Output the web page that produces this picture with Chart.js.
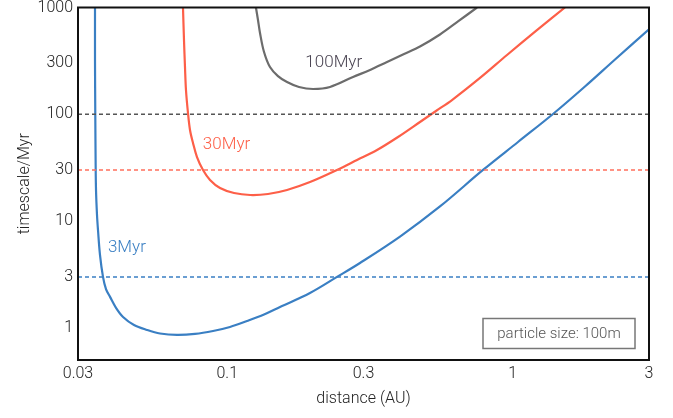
<!DOCTYPE html>
<html>
<head>
<meta charset="utf-8">
<script src="https://cdn.jsdelivr.net/npm/chart.js@4"></script>
<style>
  html, body { margin: 0; padding: 0; background: #fff; }
  #wrap { width: 673px; height: 418px; }
</style>
</head>
<body>
<div id="wrap"><canvas id="chart"></canvas></div>
<script>
// values (distance in AU, timescale in Myr)
const blueX = [0.03441, 0.03441, 0.03449, 0.03458, 0.03469, 0.03497, 0.03525, 0.03582, 0.0367, 0.0376, 0.03884, 0.04076, 0.04314, 0.04713, 0.05234, 0.05813, 0.06667, 0.07708, 0.08915, 0.1022, 0.1173, 0.1345, 0.153, 0.1948, 0.2423, 0.2916, 0.4027, 0.5559, 0.7865, 1.043, 1.383, 1.79, 2.281, 3.0];
const blueY = [1000, 322, 98.5, 37.3, 19.55, 11.4, 8.25, 4.82, 3.0, 2.31, 1.95, 1.54, 1.265, 1.064, 0.956, 0.886, 0.858, 0.877, 0.935, 1.02, 1.16, 1.335, 1.57, 2.12, 3.0, 4.05, 7.16, 13.7, 30.1, 55.0, 100.6, 182, 326, 625];
const redX = [0.06996, 0.07053, 0.0711, 0.07167, 0.07284, 0.07403, 0.07584, 0.07833, 0.08222, 0.087, 0.09432, 0.1056, 0.1202, 0.1389, 0.1619, 0.1949, 0.2423, 0.2847, 0.3345, 0.3963, 0.4731, 0.5383, 0.6125, 0.7677, 0.9545, 1.206, 1.523];
const redY = [1000, 496, 277, 169, 102.8, 71.3, 53.9, 39.8, 30.1, 24.3, 20.4, 18.3, 17.55, 17.93, 19.55, 23.2, 30.1, 37.3, 46.3, 61.3, 84.7, 107.4, 136, 219, 359, 603, 1000];
const grayX = [0.126, 0.1281, 0.1302, 0.1345, 0.1411, 0.1505, 0.1619, 0.1783, 0.1997, 0.229, 0.2757, 0.3162, 0.3627, 0.4161, 0.4731, 0.5559, 0.6429, 0.7493];
const grayY = [1000, 764, 577, 383, 277, 228, 200.6, 180.1, 172.5, 180.1, 223.6, 259.9, 308.9, 367, 431, 559, 740, 1000];

const levels = [3, 30, 100];
const xTicks = [0.03, 0.1, 0.3, 1, 3];
const yTicks = [1, 3, 10, 30, 100, 300, 1000];
const curveNames = ["3Myr", "30Myr", "100Myr"];

const blue = "#3a7fc3", red = "#fd5f48", gray = "#6c6c6c";
const FONT = "Roboto, 'Liberation Sans', sans-serif";

function pts(xs, ys) {
  return xs.map((x, i) => ({ x: x, y: ys[i] }));
}

// where the curve names sit (data coords)
const nameSpots = [
  { text: curveNames[0], x: 0.0445, y: 5.6, color: blue },
  { text: curveNames[1], x: 0.0994, y: 51.6, color: red },
  { text: curveNames[2], x: 0.236, y: 302, color: "#4a4452" }
];

const frameAndLabels = {
  id: "frameAndLabels",
  afterDraw(chart) {
    const { ctx, chartArea: a, scales } = chart;
    ctx.save();
    ctx.setLineDash([]);
    ctx.font = "300 17px " + FONT;
    ctx.textAlign = "center";
    ctx.textBaseline = "middle";
    nameSpots.forEach(n => {
      ctx.fillStyle = n.color;
      ctx.fillText(n.text, scales.x.getPixelForValue(n.x), scales.y.getPixelForValue(n.y));
    });
    // legend-like box
    const bw = 152, bh = 30;
    const bx = a.right - 14 - bw, by = a.bottom - 11.5 - bh;
    ctx.strokeStyle = "#777";
    ctx.lineWidth = 1.5;
    ctx.strokeRect(bx, by, bw, bh);
    ctx.fillStyle = "#555";
    ctx.font = "300 15px " + FONT;
    ctx.fillText("particle size: 100m", bx + bw / 2, by + bh / 2 + 1);
    // plot frame
    ctx.strokeStyle = "#111";
    ctx.lineWidth = 2;
    ctx.strokeRect(a.left, a.top, a.right - a.left, a.bottom - a.top);
    ctx.restore();
  }
};

const dashColors = [blue, "#ff6f5c", "#555"];
const dashed = levels.map((v, i) => ({
  data: [{ x: xTicks[0], y: v }, { x: xTicks[xTicks.length - 1], y: v }],
  borderColor: dashColors[i],
  borderWidth: 1.5,
  borderDash: [4, 3],
  showLine: true,
  pointRadius: 0
}));

const curve = (xs, ys, color) => ({
  data: pts(xs, ys),
  borderColor: color,
  borderWidth: 2.2,
  showLine: true,
  pointRadius: 0,
  tension: 0.35
});

const tickFont = { family: FONT, size: 16, weight: "300" };

new Chart(document.getElementById("chart"), {
  type: "scatter",
  data: {
    datasets: [
      ...dashed,
      curve(blueX, blueY, blue),
      curve(redX, redY, red),
      curve(grayX, grayY, gray)
    ]
  },
  options: {
    responsive: true,
    maintainAspectRatio: false,
    animation: false,
    layout: { padding: { top: 0, right: 24, bottom: 0, left: 0 } },
    plugins: { legend: { display: false }, tooltip: { enabled: false } },
    scales: {
      x: {
        type: "logarithmic",
        min: 0.03,
        max: 3,
        afterBuildTicks: s => { s.ticks = xTicks.map(v => ({ value: v })); },
        afterFit: s => { s.height = 58; },
        ticks: { callback: v => String(v), color: "#222", padding: 4, maxRotation: 0, font: tickFont },
        grid: { display: false, drawTicks: false },
        border: { display: false },
        title: { display: true, text: "distance (AU)", color: "#222", padding: { top: 0, bottom: 9 }, font: tickFont }
      },
      y: {
        type: "logarithmic",
        min: 0.5,
        max: 1000,
        afterBuildTicks: s => { s.ticks = yTicks.map(v => ({ value: v })); },
        afterFit: s => { s.width = 78; s.paddingTop = 7.5; s.paddingBottom = 0; },
        ticks: { callback: v => String(v), color: "#222", padding: 5, font: tickFont },
        grid: { display: false, drawTicks: false },
        border: { display: false },
        title: { display: true, text: "timescale/Myr", color: "#222", padding: { top: 15, bottom: 0 }, font: tickFont }
      }
    }
  },
  plugins: [frameAndLabels]
});
</script>
</body>
</html>
